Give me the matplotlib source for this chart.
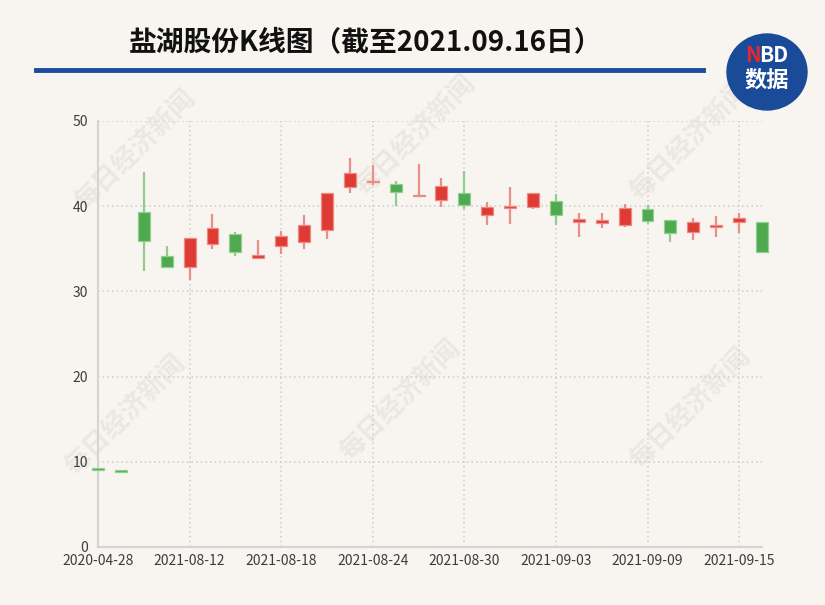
import matplotlib
matplotlib.use('Agg')
import matplotlib.pyplot as plt
from matplotlib.patches import Ellipse

plt.rcParams['font.family'] = ['Noto Sans CJK SC', 'DejaVu Sans']

# K线数据（开、收、高、低）
dates = ['2020-04-28', '2020-04-29', '2021-08-10', '2021-08-11', '2021-08-12',
         '2021-08-13', '2021-08-16', '2021-08-17', '2021-08-18', '2021-08-19',
         '2021-08-20', '2021-08-23', '2021-08-24', '2021-08-25', '2021-08-26',
         '2021-08-27', '2021-08-30', '2021-08-31', '2021-09-01', '2021-09-02',
         '2021-09-03', '2021-09-06', '2021-09-07', '2021-09-08', '2021-09-09',
         '2021-09-10', '2021-09-13', '2021-09-14', '2021-09-15', '2021-09-16']
open_ = [9.20, 9.02, 39.30, 34.10, 32.90, 35.55, 36.75, 33.90, 35.30, 35.80,
         37.25, 42.30, 42.80, 42.60, 41.15, 40.75, 41.50, 39.00, 39.80, 39.95,
         40.60, 38.10, 38.00, 37.80, 39.65, 38.40, 37.00, 37.70, 38.20, 38.10]
close = [9.10, 8.90, 35.90, 32.90, 36.25, 37.40, 34.65, 34.30, 36.50, 37.80,
         41.60, 43.90, 43.00, 41.70, 41.35, 42.40, 40.10, 39.90, 40.00, 41.60,
         38.95, 38.50, 38.40, 39.75, 38.30, 36.90, 38.15, 37.75, 38.60, 34.60]
high = [9.20, 9.02, 44.00, 35.30, 36.30, 39.10, 37.00, 36.05, 37.10, 39.00,
        41.60, 45.70, 44.85, 42.90, 45.00, 43.30, 44.15, 40.50, 42.30, 41.60,
        41.40, 39.25, 39.25, 40.20, 40.15, 38.40, 38.60, 38.90, 39.25, 38.10]
low = [9.10, 8.90, 32.40, 32.80, 31.30, 35.00, 34.10, 33.90, 34.40, 35.00,
       36.20, 41.50, 42.50, 40.00, 41.05, 39.90, 39.70, 37.75, 37.95, 39.65,
       37.75, 36.40, 37.40, 37.60, 37.95, 35.75, 36.05, 36.40, 36.85, 34.60]

up_body, up_edge, up_wick = '#dd3b34', '#ee8a83', '#ec8e88'
dn_body, dn_edge, dn_wick = '#4fa94f', '#92d092', '#8fcd8f'
bg = '#f8f5f1'

fig = plt.figure(figsize=(8.25, 6.05), dpi=100, facecolor=bg)
ax = fig.add_axes([98 / 825, 1 - 547 / 605, 664 / 825, 426 / 605])
ax.set_facecolor('none')

x = list(range(len(dates)))
for i in x:
    up = close[i] >= open_[i]
    wick = up_wick if up else dn_wick
    ax.vlines(i, low[i], high[i], color=wick, lw=1.6, zorder=3, clip_on=False)
    h = max(abs(close[i] - open_[i]), 0.22)
    b = (open_[i] + close[i]) / 2 - h / 2
    ax.bar(i, h, bottom=b, width=0.52,
           color=up_body if up else dn_body,
           edgecolor=up_edge if up else dn_edge, linewidth=0.9,
           zorder=4, clip_on=False)

ax.set_xlim(0, len(dates) - 1)
ax.set_ylim(0, 50)
ax.set_yticks(range(0, 51, 10))
ax.set_xticks(x[::4])
ax.set_xticklabels(dates[::4])
ax.tick_params(axis='both', length=0, labelsize=10, labelcolor='#3c3c3c')
ax.tick_params(axis='y', pad=7)
ax.tick_params(axis='x', pad=5)

ax.grid(True, color='#d2d2d2', lw=1.2, linestyle=(0, (1, 1.8)), zorder=1)
for s in ['top', 'right']:
    ax.spines[s].set_visible(False)
for s in ['left', 'bottom']:
    ax.spines[s].set_color('#d4d4d4')
    ax.spines[s].set_linewidth(1.5)

# 水印
for cx, cy in [(135, 150), (415, 135), (690, 140), (125, 415), (400, 400), (690, 408)]:
    fig.text(cx / 825, 1 - cy / 605, '每日经济新闻', rotation=45, fontsize=19,
             color='#ebe7e2', ha='center', va='center', zorder=-1, fontweight='bold')

# 标题
fig.text(0.443, 1 - 42 / 605, '盐湖股份K线图（截至2021.09.16日）', fontsize=20,
         fontweight='bold', color='#111111', ha='center', va='center')
fig.add_artist(plt.Line2D([36 / 825, 703 / 825], [1 - 70 / 605, 1 - 70 / 605],
                          color='#1b4c9b', lw=3.5, transform=fig.transFigure))

# NBD 标志
fig.add_artist(Ellipse((767 / 825, 1 - 72 / 605), 80 / 825, 76 / 605,
                       transform=fig.transFigure, color='#1a4b99'))
fig.text(745 / 825, 1 - 56 / 605, 'N', fontsize=15, fontweight='bold',
         color='#e8262e', ha='left', va='center', style='italic')
fig.text(759 / 825, 1 - 56 / 605, 'BD', fontsize=15, fontweight='bold',
         color='white', ha='left', va='center')
fig.text(767 / 825, 1 - 80 / 605, '数据', fontsize=16, fontweight='bold',
         color='white', ha='center', va='center')

fig.savefig('out.png', dpi=100, facecolor=bg)
